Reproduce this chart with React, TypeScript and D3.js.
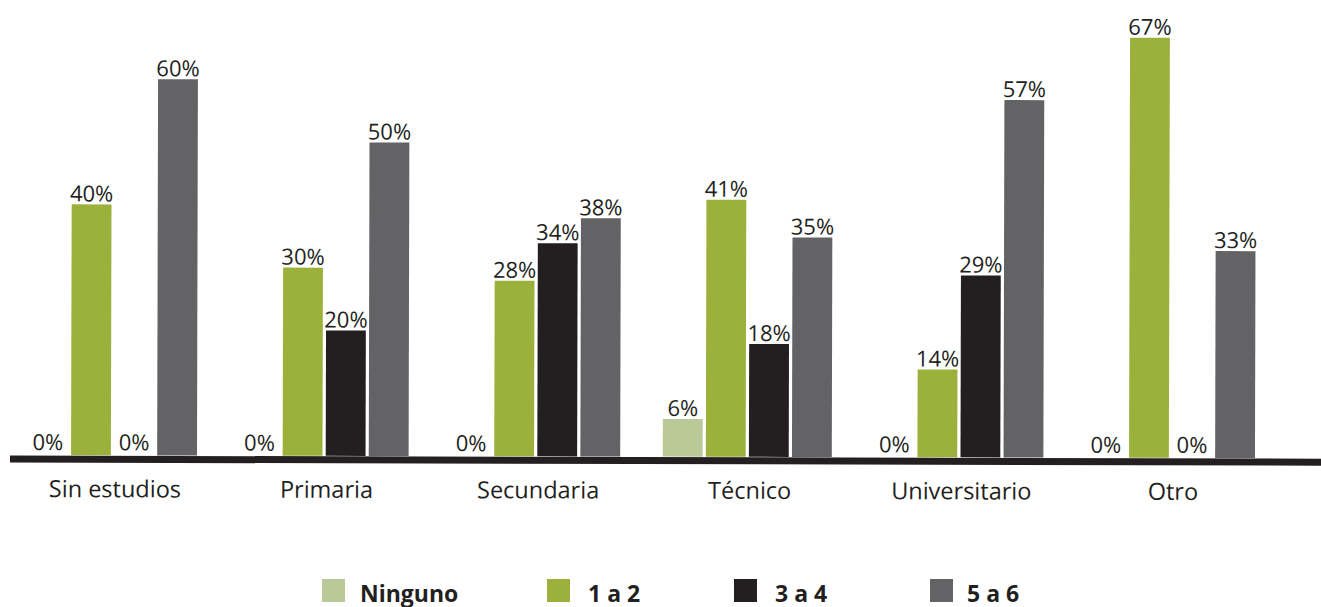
import React from "react";
import * as d3 from "d3";

const categories = ["Sin estudios", "Primaria", "Secundaria", "Técnico", "Universitario", "Otro"];
const series = ["Ninguno", "1 a 2", "3 a 4", "5 a 6"];
const ninguno = [0, 0, 0, 6, 0, 0];
const unoADos = [40, 30, 28, 41, 14, 67];
const tresACuatro = [0, 20, 34, 18, 29, 0];
const cincoASeis = [60, 50, 38, 35, 57, 33];
const seriesValues = [ninguno, unoADos, tresACuatro, cincoASeis];
const colors = ["#b9c998", "#9bb13c", "#231f20", "#636264"];
const legendX = [322, 547, 734, 930];

const W = 1321;
const H = 607;
const BASE = 455;
const FONT = "'Open Sans', 'Liberation Sans', sans-serif";

export default function App() {
  const x0 = d3.scaleBand<string>().domain(categories).range([28, 1258]).paddingInner(0.187).paddingOuter(0);
  const x1 = d3.scaleBand<string>().domain(series).range([0, 169]).paddingInner(0.075).paddingOuter(0);
  const y = d3.scaleLinear().domain([0, 100]).range([BASE, BASE - 627]);

  return (
    <svg width={W} height={H} style={{ position: "absolute", left: 0, top: 0, background: "#fff" }} fontFamily={FONT}>
      <g transform={`rotate(0.14, 0, ${BASE})`}>
        {categories.map((c, i) => (
          <g key={c} transform={`translate(${x0(c)},0)`}>
            {series.map((s, j) => {
              const v = seriesValues[j][i];
              const bx = x1(s)!;
              const bw = x1.bandwidth();
              return (
                <g key={s}>
                  {v > 0 && (
                    <rect x={bx} y={y(v)} width={bw} height={y(0) - y(v)} fill={colors[j]} />
                  )}
                  <text
                    x={bx + bw / 2}
                    y={v > 0 ? y(v) - 3 : y(0) - 5}
                    textAnchor="middle"
                    fontSize={22}
                    fill="#231f20"
                  >
                    {v}%
                  </text>
                </g>
              );
            })}
            <text x={x0.bandwidth() / 2 + 1} y={497} textAnchor="middle" fontSize={23.5} fill="#231f20">
              {c}
            </text>
          </g>
        ))}
        <line x1={10} x2={1325} y1={BASE + 4} y2={BASE + 4} stroke="#231f20" strokeWidth={7} />
      </g>
      {series.map((s, j) => (
        <g key={s} transform={`translate(${legendX[j]},579)`}>
          <rect x={0} y={0} width={23} height={23} fill={colors[j]} />
          <text x={j === 0 ? 38 : j === 3 ? 37 : 41} y={22.5} fontSize={23} fontWeight="bold" fill="#231f20">
            {s}
          </text>
        </g>
      ))}
    </svg>
  );
}
